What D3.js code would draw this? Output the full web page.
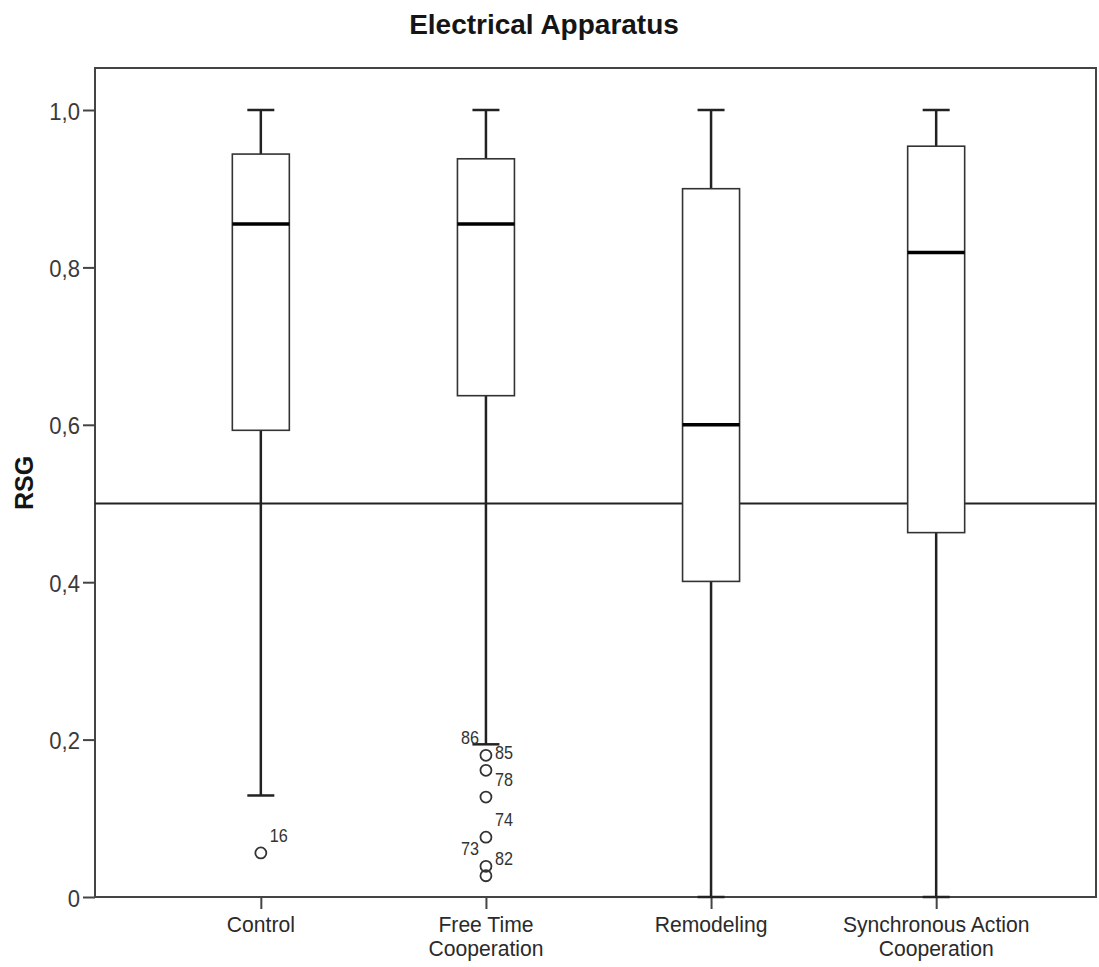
<!DOCTYPE html>
<html>
<head>
<meta charset="utf-8">
<script src="https://cdn.jsdelivr.net/npm/d3@7"></script>
<style>
  body { margin: 0; background: #fff; }
  svg { display: block; font-family: "Liberation Sans", Arial, sans-serif; }
</style>
</head>
<body>
<svg id="chart" width="1099" height="967"></svg>
<script>
// Groups and their five-number summaries (RSG scale 0–1)
const groups = ["Control", "Free Time Cooperation", "Remodeling", "Synchronous Action Cooperation"];
const groupLines = [["Control"], ["Free Time", "Cooperation"], ["Remodeling"], ["Synchronous Action", "Cooperation"]];
const whiskerLow = [0.129, 0.194, 0.0, 0.0];
const q1 = [0.593, 0.637, 0.401, 0.463];
const median = [0.855, 0.855, 0.600, 0.819];
const q3 = [0.944, 0.938, 0.900, 0.954];
const whiskerHigh = [1.0, 1.0, 1.0, 1.0];

// Outlying cases: group, value, case id, label side
const outlierGroup = ["Control", "Free Time Cooperation", "Free Time Cooperation", "Free Time Cooperation",
  "Free Time Cooperation", "Free Time Cooperation", "Free Time Cooperation"];
const outlierValue = [0.056, 0.180, 0.161, 0.127, 0.076, 0.039, 0.027];
const outlierId = ["16", "86", "85", "78", "74", "73", "82"];
const outlierSide = ["right", "left", "right", "right", "right", "left", "right"];

const yTicks = [0, 0.2, 0.4, 0.6, 0.8, 1.0];
const referenceValue = 0.5;

const svg = d3.select("#chart");
const plot = { left: 95, right: 1096, top: 68, bottom: 897 };
const ink = "#222";

const x = d3.scalePoint().domain(groups).range([101, plot.right]).padding(0.71);
const y = d3.scaleLinear().domain([0, 1]).range([plot.bottom, plot.bottom - 787]);

// Title
svg.append("text")
  .attr("x", 544).attr("y", 34)
  .attr("text-anchor", "middle")
  .attr("font-size", 28).attr("font-weight", "bold").attr("fill", "#151515")
  .text("Electrical Apparatus");

// Plot frame
svg.append("rect")
  .attr("x", plot.left).attr("y", plot.top)
  .attr("width", plot.right - plot.left).attr("height", plot.bottom - plot.top)
  .attr("fill", "none").attr("stroke", "#444").attr("stroke-width", 2);

// Y axis
const yAxis = d3.axisLeft(y).tickValues(yTicks).tickSize(12)
  .tickFormat(d => d === 0 ? "0" : d3.format(".1f")(d).replace(".", ","));
const gy = svg.append("g").attr("transform", `translate(${plot.left},0)`).call(yAxis);
gy.select(".domain").remove();
gy.selectAll(".tick line").attr("stroke", "#444").attr("stroke-width", 2);
gy.selectAll(".tick text")
  .attr("x", null).attr("dy", null)
  .attr("transform", `translate(-15,9) scale(0.92,1)`)
  .attr("font-size", 24).attr("fill", "#3a3a3a")
  .attr("font-family", "Liberation Sans, Arial, sans-serif");

svg.append("text")
  .attr("transform", `translate(33,483) rotate(-90)`)
  .attr("text-anchor", "middle")
  .attr("font-size", 25).attr("font-weight", "bold").attr("fill", "#151515")
  .text("RSG");

// X axis
const xAxis = d3.axisBottom(x).tickSize(12).tickFormat("");
const gx = svg.append("g").attr("transform", `translate(0,${plot.bottom})`).call(xAxis);
gx.select(".domain").remove();
gx.selectAll(".tick line").attr("stroke", "#444").attr("stroke-width", 2);

// Category labels, one text per line
groups.forEach((g, i) => {
  groupLines[i].forEach((line, j) => {
    svg.append("text")
      .attr("transform", `translate(${x(g)},${932 + j * 24}) scale(0.96,1)`)
      .attr("text-anchor", "middle")
      .attr("font-size", 22).attr("fill", "#2a2a2a")
      .text(line);
  });
});

// Reference line at 0.5
svg.append("line")
  .attr("x1", plot.left).attr("x2", plot.right)
  .attr("y1", y(referenceValue)).attr("y2", y(referenceValue))
  .attr("stroke", ink).attr("stroke-width", 2);

// Boxes
const boxW = 57, capW = 27;
const boxes = svg.append("g");
groups.forEach((g, i) => {
  const cx = x(g);
  const gb = boxes.append("g");
  // whiskers
  gb.append("line").attr("x1", cx).attr("x2", cx)
    .attr("y1", y(q3[i])).attr("y2", y(whiskerHigh[i]))
    .attr("stroke", ink).attr("stroke-width", 2.5);
  gb.append("line").attr("x1", cx).attr("x2", cx)
    .attr("y1", y(q1[i])).attr("y2", y(whiskerLow[i]))
    .attr("stroke", ink).attr("stroke-width", 2.5);
  // caps
  [whiskerHigh[i], whiskerLow[i]].forEach(v => {
    gb.append("line").attr("x1", cx - capW / 2).attr("x2", cx + capW / 2)
      .attr("y1", y(v)).attr("y2", y(v))
      .attr("stroke", ink).attr("stroke-width", 2.5);
  });
  // box
  gb.append("rect")
    .attr("x", cx - boxW / 2).attr("width", boxW)
    .attr("y", y(q3[i])).attr("height", y(q1[i]) - y(q3[i]))
    .attr("fill", "#fff").attr("stroke", "#333").attr("stroke-width", 1.6);
  // median
  gb.append("line").attr("x1", cx - boxW / 2).attr("x2", cx + boxW / 2)
    .attr("y1", y(median[i])).attr("y2", y(median[i]))
    .attr("stroke", "#000").attr("stroke-width", 3.5);
});

// Outliers with case labels
const outl = svg.append("g");
outlierValue.forEach((v, k) => {
  const cx = x(outlierGroup[k]);
  const cy = y(v);
  outl.append("circle").attr("cx", cx).attr("cy", cy).attr("r", 5.5)
    .attr("fill", "none").attr("stroke", "#333").attr("stroke-width", 1.8);
  const right = outlierSide[k] === "right";
  outl.append("text")
    .attr("transform", `translate(${right ? cx + 9 : cx - 7},${cy - 11}) scale(0.9,1)`)
    .attr("text-anchor", right ? "start" : "end")
    .attr("font-size", 18).attr("fill", "#333")
    .text(outlierId[k]);
});
</script>
</body>
</html>
